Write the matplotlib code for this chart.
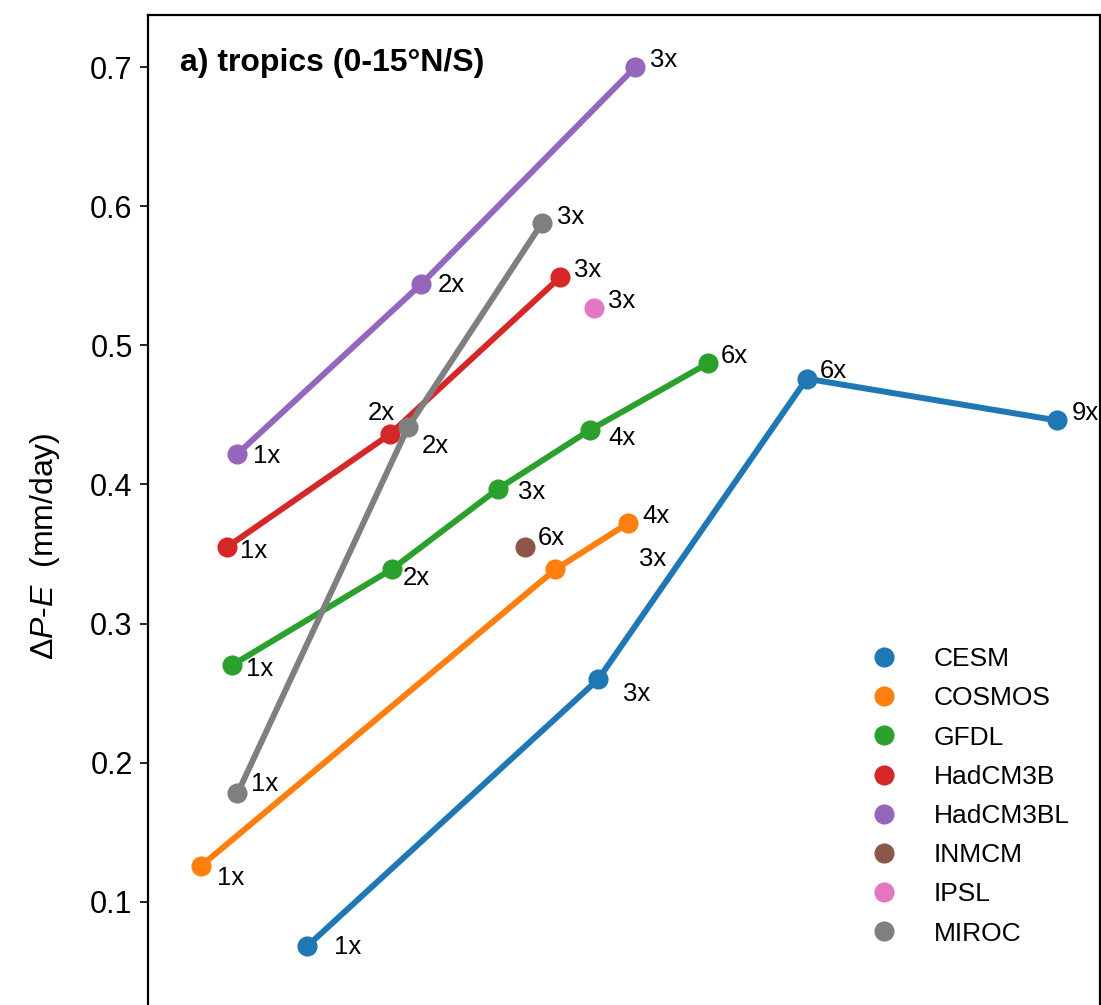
import matplotlib
matplotlib.use("Agg")
import matplotlib.pyplot as plt
from matplotlib.lines import Line2D

plt.rcParams["font.family"] = ["Liberation Sans", "DejaVu Sans"]
plt.rcParams["mathtext.fontset"] = "custom"
plt.rcParams["mathtext.rm"] = "Liberation Sans"
plt.rcParams["mathtext.it"] = "Liberation Sans:italic"

# model runs: x position, tropical P-E change, CO2 multiple
models = ["CESM", "COSMOS", "GFDL", "HadCM3B", "HadCM3BL", "INMCM", "IPSL", "MIROC"]
cesm_x = [1.67, 4.73, 6.92, 9.55]
cesm_y = [0.068, 0.260, 0.476, 0.446]
cesm_co2 = ["1x", "3x", "6x", "9x"]
cosmos_x = [0.56, 4.28, 5.04]
cosmos_y = [0.126, 0.339, 0.372]
cosmos_co2 = ["1x", "3x", "4x"]
gfdl_x = [0.88, 2.56, 3.68, 4.64, 5.88]
gfdl_y = [0.270, 0.339, 0.397, 0.439, 0.487]
gfdl_co2 = ["1x", "2x", "3x", "4x", "6x"]
hadcm3b_x = [0.83, 2.54, 4.33]
hadcm3b_y = [0.355, 0.436, 0.549]
hadcm3b_co2 = ["1x", "2x", "3x"]
hadcm3bl_x = [0.94, 2.87, 5.12]
hadcm3bl_y = [0.422, 0.544, 0.700]
hadcm3bl_co2 = ["1x", "2x", "3x"]
inmcm_x = [3.96]
inmcm_y = [0.355]
inmcm_co2 = ["6x"]
ipsl_x = [4.69]
ipsl_y = [0.527]
ipsl_co2 = ["3x"]
miroc_x = [0.94, 2.73, 4.14]
miroc_y = [0.178, 0.441, 0.588]
miroc_co2 = ["1x", "2x", "3x"]

runs = [
    (cesm_x, cesm_y, cesm_co2),
    (cosmos_x, cosmos_y, cosmos_co2),
    (gfdl_x, gfdl_y, gfdl_co2),
    (hadcm3b_x, hadcm3b_y, hadcm3b_co2),
    (hadcm3bl_x, hadcm3bl_y, hadcm3bl_co2),
    (inmcm_x, inmcm_y, inmcm_co2),
    (ipsl_x, ipsl_y, ipsl_co2),
    (miroc_x, miroc_y, miroc_co2),
]

# label offsets in pixels (dx right, dy down), hand placed to avoid overlaps
label_offsets = [
    [(41, 1), (38, 15), (27, -8), (28, -7)],
    [(29, 12), (97, -10), (28, -7)],
    [(28, 4), (25, 9), (33, 3), (32, 8), (27, -7)],
    [(27, 4), (-8, -21), (27, -7)],
    [(29, 2), (30, 1), (28, -7)],
    [(26, -9)],
    [(27, -7)],
    [(27, -9), (27, 19), (28, -6)],
]

colors = plt.get_cmap("tab10").colors

W, H = 1101, 1005
fig = plt.figure(figsize=(W / 100, H / 100), dpi=100)
ax = fig.add_axes([148 / W, (H - 1041) / H, (1100 - 148) / W, 1026 / H])

for i, (xs, ys, co2) in enumerate(runs):
    ax.plot(xs, ys, "-o", color=colors[i], lw=4.3, ms=13.5, solid_capstyle="round")
    for x, y, lab, (dx, dy) in zip(xs, ys, co2, label_offsets[i]):
        ax.annotate(lab, (x, y), xytext=(dx, -dy), textcoords="offset pixels",
                    ha="center", va="center", fontsize=18.5)

ax.set_xlim(0, 10)
ax.set_ylim(0, 0.7374)
ax.set_yticks([0.1, 0.2, 0.3, 0.4, 0.5, 0.6, 0.7])
ax.tick_params(axis="y", labelsize=22, length=5.5, width=1.2, pad=5.5)
ax.set_xticks([])
for s in ax.spines.values():
    s.set_linewidth(1.6)

ax.text(0.034, 0.953, "a) tropics (0-15°N/S)", transform=ax.transAxes,
        fontsize=23, fontweight="bold", ha="left", va="center")

fig.text(45 / W, 1 - 546 / H, "Δ$P$-$E$  (mm/day)", rotation=90,
         ha="center", va="center", fontsize=23)

handles = [Line2D([], [], ls="none", marker="o", ms=13.5, color=colors[i])
           for i in range(len(models))]
ax.legend(handles, models, loc="upper left", bbox_to_anchor=(0.734, 0.394),
          frameon=False, fontsize=19, labelspacing=0.575, handletextpad=0.9,
          borderaxespad=0)

fig.savefig("out.png", dpi=100)
